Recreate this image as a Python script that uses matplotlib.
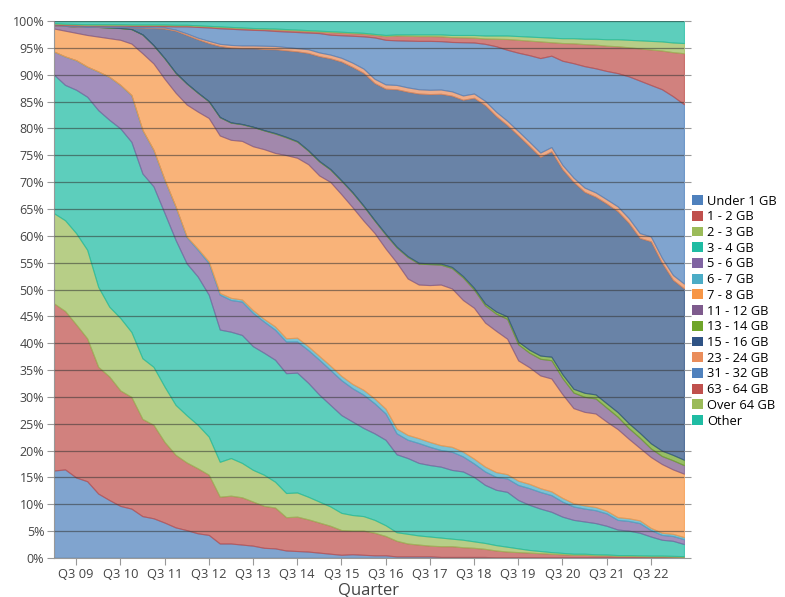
import matplotlib
matplotlib.use('Agg')
import matplotlib.pyplot as plt
from matplotlib.patches import Patch
import numpy as np

plt.rcParams['font.family'] = ['Open Sans', 'DejaVu Sans']

# quarters Q1 09 .. Q2 23
quarters = [f'Q{q} {y % 100:02d}' for y in range(2009, 2024) for q in range(1, 5)][:58]

names = ['Under 1 GB', '1 - 2 GB', '2 - 3 GB', '3 - 4 GB', '5 - 6 GB', '6 - 7 GB',
         '7 - 8 GB', '11 - 12 GB', '13 - 14 GB', '15 - 16 GB', '23 - 24 GB',
         '31 - 32 GB', '63 - 64 GB', 'Over 64 GB', 'Other']

under_1 = [16.3, 16.5, 15.0, 14.3, 12.0, 10.8, 9.7, 9.2, 7.8, 7.4,
           6.6, 5.7, 5.2, 4.6, 4.3, 2.7, 2.7, 2.5, 2.3, 1.9,
           1.8, 1.4, 1.3, 1.2, 1.0, 0.8, 0.6, 0.7, 0.6, 0.5,
           0.5, 0.3, 0.3, 0.3, 0.3, 0.2, 0.2, 0.2, 0.2, 0.2,
           0.1, 0.1, 0.1, 0.1, 0.1, 0.1, 0.1, 0.1, 0.1, 0.1,
           0.1, 0.1, 0.1, 0.1, 0.1, 0.1, 0.1, 0.1]
gb1_2 = [31.1, 29.5, 28.5, 26.6, 23.6, 23.0, 21.5, 20.8, 18.1, 17.4,
         15.0, 13.5, 12.6, 12.1, 11.2, 8.7, 8.9, 8.8, 8.2, 7.8,
         7.6, 6.2, 6.4, 6.0, 5.6, 5.2, 4.6, 4.4, 4.5, 4.2,
         3.6, 2.9, 2.4, 2.2, 2.0, 2.0, 2.0, 1.8, 1.7, 1.5,
         1.3, 1.1, 1.0, 0.9, 0.8, 0.7, 0.6, 0.5, 0.5, 0.4,
         0.4, 0.3, 0.3, 0.25, 0.2, 0.2, 0.15, 0.1]
gb2_3 = [16.8, 16.9, 17.0, 16.5, 14.9, 13.0, 13.5, 12.1, 11.3, 10.8,
         10.3, 9.3, 8.8, 8.1, 7.1, 6.5, 7.0, 6.4, 5.9, 5.8,
         4.8, 4.5, 4.5, 4.2, 3.9, 3.6, 3.2, 2.9, 2.7, 2.4,
         2.0, 1.6, 1.8, 1.7, 1.7, 1.6, 1.4, 1.4, 1.2, 1.1,
         1.0, 0.9, 0.7, 0.5, 0.4, 0.3, 0.25, 0.2, 0.2, 0.2,
         0.15, 0.15, 0.15, 0.15, 0.15, 0.15, 0.15, 0.15]
gb3_4 = [25.8, 25.2, 26.7, 28.5, 32.9, 34.8, 35.3, 35.4, 34.4, 33.6,
         32.3, 30.7, 28.3, 27.6, 26.4, 24.6, 23.5, 23.8, 23.0, 22.7,
         22.7, 22.3, 22.3, 21.2, 19.9, 18.9, 18.2, 17.4, 16.4, 16.1,
         15.9, 14.5, 14.1, 13.5, 13.3, 13.2, 12.8, 12.7, 12.0, 10.8,
         10.3, 10.2, 9.0, 8.4, 7.9, 7.5, 6.75, 6.3, 6.0, 5.8,
         5.35, 4.75, 4.55, 4.2, 3.55, 2.95, 2.8, 2.25]
gb5_6 = [4.3, 5.3, 5.5, 5.6, 7.2, 8.0, 8.1, 8.7, 8.1, 6.8,
         6.2, 6.2, 4.9, 5.0, 5.9, 6.5, 5.9, 6.2, 6.2, 5.8,
         5.6, 5.9, 5.8, 6.1, 6.5, 6.5, 6.5, 6.2, 6.2, 5.6,
         4.9, 3.9, 3.4, 3.7, 3.4, 3.1, 3.4, 2.8, 2.5, 2.5,
         2.4, 2.5, 2.8, 3.1, 3.1, 3.1, 2.8, 2.5, 2.4, 2.4,
         2.3, 1.8, 1.8, 1.8, 1.2, 0.9, 0.9, 0.9]
gb6_7 = [0, 0, 0, 0, 0, 0, 0, 0, 0, 0,
         0, 0, 0.1, 0.2, 0.3, 0.3, 0.4, 0.4, 0.5, 0.5,
         0.6, 0.6, 0.7, 0.7, 0.7, 0.8, 0.8, 0.8, 0.9, 0.9,
         0.9, 0.9, 0.9, 0.9, 0.9, 0.9, 0.9, 0.9, 0.9, 0.9,
         0.9, 0.8, 0.8, 0.8, 0.7, 0.7, 0.7, 0.6, 0.6, 0.6,
         0.5, 0.5, 0.5, 0.5, 0.4, 0.4, 0.4, 0.4]
gb7_8 = [4.3, 4.8, 5.1, 5.9, 6.5, 7.2, 8.4, 9.6, 14.3, 16.1,
         18.8, 21.2, 24.6, 25.5, 26.7, 29.3, 29.4, 29.5, 30.5, 31.6,
         32.3, 34.1, 33.5, 33.9, 33.6, 34.2, 33.8, 32.9, 31.5, 30.8,
         29.8, 30.9, 29.1, 28.6, 29.2, 29.9, 29.5, 28.2, 28.1, 26.8,
         26.3, 25.2, 22.4, 21.7, 21.0, 21.0, 19.3, 17.7, 17.4, 17.4,
         16.6, 16.4, 14.8, 13.5, 13.2, 12.8, 12.0, 11.8]
gb11_12 = [0.6, 0.9, 1.2, 1.5, 1.8, 2.0, 2.2, 2.7, 3.5, 3.4,
           3.8, 3.7, 3.9, 3.5, 3.1, 3.4, 3.2, 3.1, 3.6, 3.5,
           3.6, 3.3, 3.0, 2.5, 2.6, 2.3, 2.5, 2.7, 2.7, 2.3,
           2.6, 2.8, 4.0, 3.9, 3.9, 3.7, 3.8, 4.2, 3.4, 3.2,
           3.2, 3.7, 3.0, 2.7, 3.1, 3.4, 3.0, 2.9, 2.8, 2.8,
           2.6, 2.3, 2.0, 1.9, 1.6, 1.5, 1.7, 1.6]
gb13_14 = [0, 0, 0, 0, 0, 0, 0, 0, 0, 0,
           0.05, 0.05, 0.05, 0.05, 0.05, 0.05, 0.05, 0.05, 0.05, 0.05,
           0.1, 0.1, 0.1, 0.1, 0.1, 0.1, 0.1, 0.1, 0.1, 0.1,
           0.15, 0.15, 0.15, 0.15, 0.15, 0.2, 0.2, 0.25, 0.3, 0.35,
           0.4, 0.45, 0.5, 0.55, 0.6, 0.65, 0.7, 0.7, 0.75, 0.75,
           0.8, 0.85, 0.9, 0.9, 0.95, 1.0, 1.0, 1.0]
gb15_16 = [0, 0, 0, 0, 0.05, 0.1, 0.2, 0.35, 1.3, 3.2,
           5.5, 7.8, 9.0, 9.9, 10.8, 13.2, 13.9, 14.1, 14.6, 15.1,
           15.6, 16.1, 16.7, 18.1, 19.5, 20.6, 22.1, 23.3, 24.7, 25.5,
           27.0, 29.3, 30.6, 31.5, 31.5, 31.6, 31.9, 32.8, 35.4, 36.9,
           36.4, 35.6, 38.4, 37.9, 37.0, 38.2, 38.2, 38.5, 37.4, 36.8,
           37.2, 37.4, 37.3, 36.3, 37.6, 35.0, 32.6, 31.9]
gb23_24 = [0, 0, 0, 0, 0, 0, 0, 0, 0.05, 0.1,
           0.2, 0.2, 0.3, 0.3, 0.4, 0.4, 0.5, 0.5, 0.5, 0.6,
           0.6, 0.6, 0.6, 0.7, 0.7, 0.7, 0.7, 0.8, 0.8, 0.8,
           0.8, 0.8, 0.8, 0.8, 0.8, 0.8, 0.8, 0.8, 0.8, 0.8,
           0.8, 0.8, 0.8, 0.8, 0.8, 0.8, 0.8, 0.8, 0.8, 0.8,
           0.8, 0.9, 0.9, 0.9, 0.9, 0.9, 0.9, 0.9]
gb31_32 = [0.15, 0.15, 0.2, 0.25, 0.2, 0.25, 0.25, 0.25, 0.25, 0.3,
           0.25, 0.6, 1.3, 2.0, 2.5, 2.9, 3.0, 3.0, 2.9, 2.9,
           2.8, 2.9, 3.0, 3.1, 3.6, 3.7, 4.2, 5.0, 6.0, 7.7,
           8.3, 8.3, 8.7, 9.0, 9.1, 9.0, 9.2, 9.9, 9.5, 10.6,
           12.2, 13.2, 14.6, 16.1, 17.6, 17.0, 19.4, 21.3, 22.6, 23.1,
           23.9, 24.8, 26.4, 28.4, 28.2, 31.4, 33.3, 33.4]
gb63_64 = [0.15, 0.15, 0.15, 0.15, 0.15, 0.15, 0.15, 0.15, 0.15, 0.15,
           0.2, 0.2, 0.2, 0.2, 0.2, 0.25, 0.25, 0.25, 0.25, 0.25,
           0.3, 0.3, 0.3, 0.3, 0.3, 0.5, 0.5, 0.5, 0.5, 0.5,
           0.7, 0.9, 0.9, 0.9, 0.9, 0.9, 0.9, 0.9, 0.9, 1.0,
           1.4, 2.0, 2.4, 2.7, 3.1, 2.5, 3.3, 3.7, 4.1, 4.4,
           4.7, 5.0, 5.4, 6.0, 6.6, 7.2, 8.2, 9.5]
over_64 = [0.1, 0.1, 0.1, 0.1, 0.1, 0.1, 0.1, 0.1, 0.1, 0.1,
           0.1, 0.1, 0.1, 0.1, 0.1, 0.1, 0.1, 0.1, 0.1, 0.1,
           0.15, 0.15, 0.15, 0.15, 0.15, 0.15, 0.15, 0.15, 0.15, 0.15,
           0.2, 0.2, 0.25, 0.3, 0.3, 0.35, 0.4, 0.45, 0.5, 0.55,
           0.6, 0.65, 0.7, 0.75, 0.8, 0.85, 0.9, 0.95, 1.0, 1.1,
           1.2, 1.3, 1.4, 1.5, 1.6, 1.7, 1.8, 1.9]
other = [0.4, 0.5, 0.55, 0.6, 0.6, 0.6, 0.6, 0.65, 0.65, 0.65,
         0.65, 0.7, 0.7, 0.8, 0.9, 1.0, 1.1, 1.2, 1.3, 1.35,
         1.4, 1.5, 1.6, 1.7, 1.8, 1.9, 2.0, 2.1, 2.2, 2.4,
         2.6, 2.5, 2.5, 2.5, 2.5, 2.5, 2.6, 2.6, 2.6, 2.7,
         2.7, 2.7, 2.8, 2.9, 3.0, 3.1, 3.2, 3.2, 3.3, 3.3,
         3.4, 3.4, 3.5, 3.6, 3.7, 3.8, 4.0, 4.1]

series = [under_1, gb1_2, gb2_3, gb3_4, gb5_6, gb6_7, gb7_8, gb11_12, gb13_14,
          gb15_16, gb23_24, gb31_32, gb63_64, over_64, other]

colors = ['#4f81bd', '#c0504d', '#9bbb59', '#1fbca3', '#8064a2', '#4bacc6',
          '#f79646', '#7e5b8d', '#6fa52a', '#2f5385', '#ea8d5b',
          '#4f81bd', '#c0504d', '#9bbb59', '#1fbca3']

data = np.array(series, dtype=float)
data = data / data.sum(axis=0) * 100  # 100% stacked
x = np.arange(len(quarters))

fig = plt.figure(figsize=(7.85, 5.97), dpi=100)
ax = fig.add_axes([0.0688, 0.0653, 0.8025, 0.8995])

polys = ax.stackplot(x, data, colors=colors, alpha=0.72)
for p, c in zip(polys, colors):
    p.set_edgecolor(c)
    p.set_linewidth(0.8)

ax.set_xlim(0, len(quarters) - 1)
ax.set_ylim(0, 100)
ax.set_yticks(range(0, 101, 5))
ax.set_yticklabels([f'{v}%' for v in range(0, 101, 5)])
tick_pos = [i for i, q in enumerate(quarters) if q.startswith('Q3')]
ax.set_xticks(tick_pos)
ax.set_xticklabels([quarters[i] for i in tick_pos])

ax.set_axisbelow(False)
ax.yaxis.grid(True, color='#333333', alpha=0.55, linewidth=0.9)
ax.tick_params(axis='y', left=True, right=True, length=5, color='#999999',
               labelsize=9, labelcolor='#444444', pad=2)
ax.tick_params(axis='x', length=5, color='#999999', labelsize=9.3,
               labelcolor='#444444', pad=2)
for s in ['top', 'right']:
    ax.spines[s].set_visible(False)
for s in ['left', 'bottom']:
    ax.spines[s].set_color('#999999')

ax.set_xlabel('Quarter', fontsize=12, color='#444444', labelpad=1)

handles = [Patch(facecolor=c, edgecolor='none', label=n) for c, n in zip(colors, names)]
fig.legend(handles=handles, loc='upper left', bbox_to_anchor=(0.882, 0.674),
           frameon=False, fontsize=9.3, handlelength=0.8, handleheight=0.8,
           handletextpad=0.35, labelspacing=0.21, borderaxespad=0, borderpad=0)

fig.savefig('out.png', dpi=100)
